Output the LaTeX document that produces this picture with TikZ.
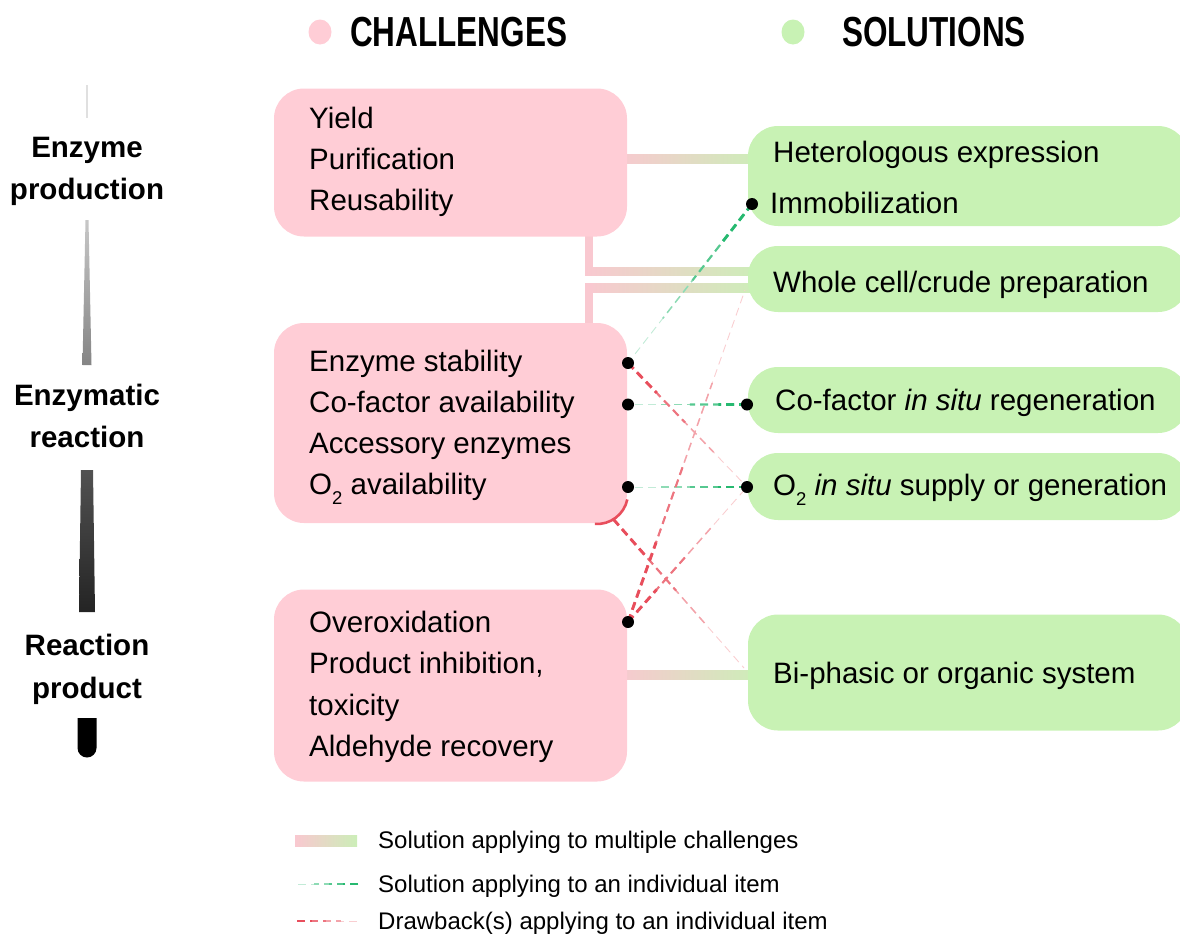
\documentclass[tikz,border=0pt]{standalone}
\usepackage{fontspec}
\usepackage{graphicx}
\setmainfont{Liberation Sans}
\usetikzlibrary{calc,shapes.geometric}
\definecolor{cpink}{RGB}{255,205,214}
\definecolor{cgreen}{RGB}{200,242,180}
\definecolor{barpink}{RGB}{249,200,208}
\definecolor{bargreen}{RGB}{204,238,184}
\definecolor{dgreen}{RGB}{38,185,112}
\definecolor{dred}{RGB}{232,78,92}
\newcommand\subtwo{\raisebox{-10pt}{\fontsize{18.5}{18.5}\selectfont 2}}
\newcommand\taperline[3]{%
 \draw[#3!28!white, line width=0.9pt, dashpat] (#1) -- (#2);
 \draw[#3!52!white, line width=1.5pt, dashpat] (#1) -- ($(#1)!0.72!(#2)$);
 \draw[#3!78!white, line width=2.1pt, dashpat] (#1) -- ($(#1)!0.48!(#2)$);
 \draw[#3, line width=2.9pt, dashpat] (#1) -- ($(#1)!0.24!(#2)$);
}
\tikzset{
 cbox/.style={fill=cpink, rounded corners=30pt, inner sep=0pt},
 sbox/.style={fill=cgreen, rounded corners=30pt, inner sep=0pt},
 itemtext/.style={anchor=base west, inner sep=0pt, font=\fontsize{29.5}{35}\selectfont},
 stagetext/.style={anchor=base, inner sep=0pt, font=\bfseries\fontsize{29.5}{35}\selectfont},
 headtext/.style={anchor=base west, inner sep=0pt, font=\bfseries\fontsize{42}{48}\selectfont},
 legtext/.style={anchor=base west, inner sep=0pt, font=\fontsize{24}{28}\selectfont},
 dashpat/.style={dash pattern=on 8pt off 5pt},
 hdot/.style={ellipse, inner sep=0pt, minimum width=23pt, minimum height=25pt},
}
\begin{document}
\begin{tikzpicture}[x=1pt,y=-1pt]
\useasboundingbox (0,0) rectangle (1180,935);
\clip (0,0) rectangle (1180,935);

% ---------- header ----------
\node[hdot, fill=cpink] (hc) at (320,32) {};
\node[headtext] (hct) at (350,46) {\scalebox{0.75}[1]{CHALLENGES}};
\node[hdot, fill=cgreen] (hs) at (793,32) {};
\node[headtext] (hst) at (842,46) {\scalebox{0.75}[1]{SOLUTIONS}};

% ---------- left stage axis ----------
\draw[black!12, line width=1.5pt] (87,85) -- (87,118);
\shade[top color=black!22, bottom color=black!48] (85.5,220) -- (88.5,220) -- (91.5,365) -- (82.5,365) -- cycle;
\shade[top color=black!68, bottom color=black!86] (81,470) -- (93,470) -- (95,612) -- (79,612) -- cycle;
\fill[black] (77.5,718) -- (96.5,718) -- (96.5,748) arc(0:180:9.5) -- cycle;
\node[stagetext] (s1a) at (87,157) {Enzyme};
\node[stagetext] (s1b) at (87,199) {production};
\node[stagetext] (s2a) at (87,405) {Enzymatic};
\node[stagetext] (s2b) at (87,447) {reaction};
\node[stagetext] (s3a) at (87,655) {Reaction};
\node[stagetext] (s3b) at (87,698) {product};

% ---------- thick bars (multiple challenges) ----------
\shade[left color=barpink, right color=bargreen] (615,154.5) rectangle (760,163.5);
\fill[barpink] (585,225) rectangle (593,275);
\shade[left color=barpink, right color=bargreen] (585,267) rectangle (760,275);
\shade[left color=barpink, right color=bargreen] (585,283) rectangle (760,292);
\fill[barpink] (585,283) rectangle (593,335);
\shade[left color=barpink, right color=bargreen] (615,670) rectangle (760,679);

% ---------- challenge boxes ----------
\node[cbox, minimum width=353pt, minimum height=148pt] (c1) at (450.5,162.5) {};
\node[cbox, minimum width=353pt, minimum height=200pt] (c2) at (450.5,423) {};
\node[cbox, minimum width=353pt, minimum height=192pt] (c3) at (450.5,685.5) {};

\node[itemtext] (c1a) at (309,128) {Yield};
\node[itemtext] (c1b) at (309,169.5) {Purification};
\node[itemtext] (c1c) at (309,210.5) {Reusability};

\node[itemtext] (c2a) at (309,371.5) {Enzyme stability};
\node[itemtext] (c2b) at (309,412.5) {Co-factor availability};
\node[itemtext] (c2c) at (309,453.5) {Accessory enzymes};
\node[itemtext] (c2d) at (309,494.5) {O\subtwo{} availability};

\node[itemtext] (c3a) at (309,632) {Overoxidation};
\node[itemtext] (c3b) at (309,673.5) {Product inhibition,};
\node[itemtext] (c3c) at (309,715) {toxicity};
\node[itemtext] (c3d) at (309,756) {Aldehyde recovery};

% ---------- solution boxes ----------
\node[sbox, minimum width=440pt, minimum height=100pt] (sA) at (968,176) {};
\node[sbox, minimum width=440pt, minimum height=66pt] (sB) at (968,279) {};
\node[sbox, minimum width=440pt, minimum height=66pt] (sC) at (968,400) {};
\node[sbox, minimum width=440pt, minimum height=67pt] (sD) at (968,486.5) {};
\node[sbox, minimum width=440pt, minimum height=116pt] (sE) at (968,672.5) {};

\node[itemtext] (sA1) at (773,162.5) {Heterologous expression};
\node[itemtext] (sA2) at (770,213) {Immobilization};
\node[itemtext] (sB1) at (773,292) {Whole cell/crude preparation};
\node[itemtext] (sC1) at (775,410.5) {Co-factor \textit{in situ} regeneration};
\node[itemtext] (sD1) at (773,495.5) {O\subtwo{} \textit{in situ} supply or generation};
\node[itemtext] (sE1) at (773,683.5) {Bi-phasic or organic system};

% ---------- anchor points ----------
\coordinate (dES) at (628,363);
\coordinate (dCA) at (628,404.5);
\coordinate (dOA) at (628,487);
\coordinate (dOX) at (628,622);
\coordinate (dIM) at (752,204);
\coordinate (dCR) at (747,404.5);
\coordinate (dOR) at (747,487);
\coordinate (wcEnd) at (745,290);
\coordinate (biEnd) at (744,668);
\coordinate (arcC) at (597,493);
\coordinate (arcM) at ($(arcC)+(58:31)$);

% ---------- individual connectors ----------
\taperline{dIM}{dES}{dgreen}
\taperline{dCR}{dCA}{dgreen}
\taperline{dOR}{dOA}{dgreen}
\taperline{dES}{dOR}{dred}
\taperline{arcM}{biEnd}{dred}
\taperline{dOX}{wcEnd}{dred}
\taperline{dOX}{dOR}{dred}
\draw[dred, line width=2.6pt] (arcC) ++(12:31) arc(12:94:31);

\foreach \p in {dES,dCA,dOA,dOX,dIM,dCR,dOR}
  \fill[black] (\p) circle [radius=6pt];

% ---------- legend ----------
\shade[left color=barpink, right color=bargreen] (295,835) rectangle (357,846);
\node[legtext] (l1) at (378,848) {Solution applying to multiple challenges};
\coordinate (lgL) at (297,884);
\coordinate (lgR) at (358,884);
\taperline{lgR}{lgL}{dgreen}
\node[legtext] (l2) at (378,892) {Solution applying to an individual item};
\coordinate (lrL) at (297,921);
\coordinate (lrR) at (358,921);
\taperline{lrL}{lrR}{dred}
\node[legtext] (l3) at (378,929) {Drawback(s) applying to an individual item};
\end{tikzpicture}
\end{document}
